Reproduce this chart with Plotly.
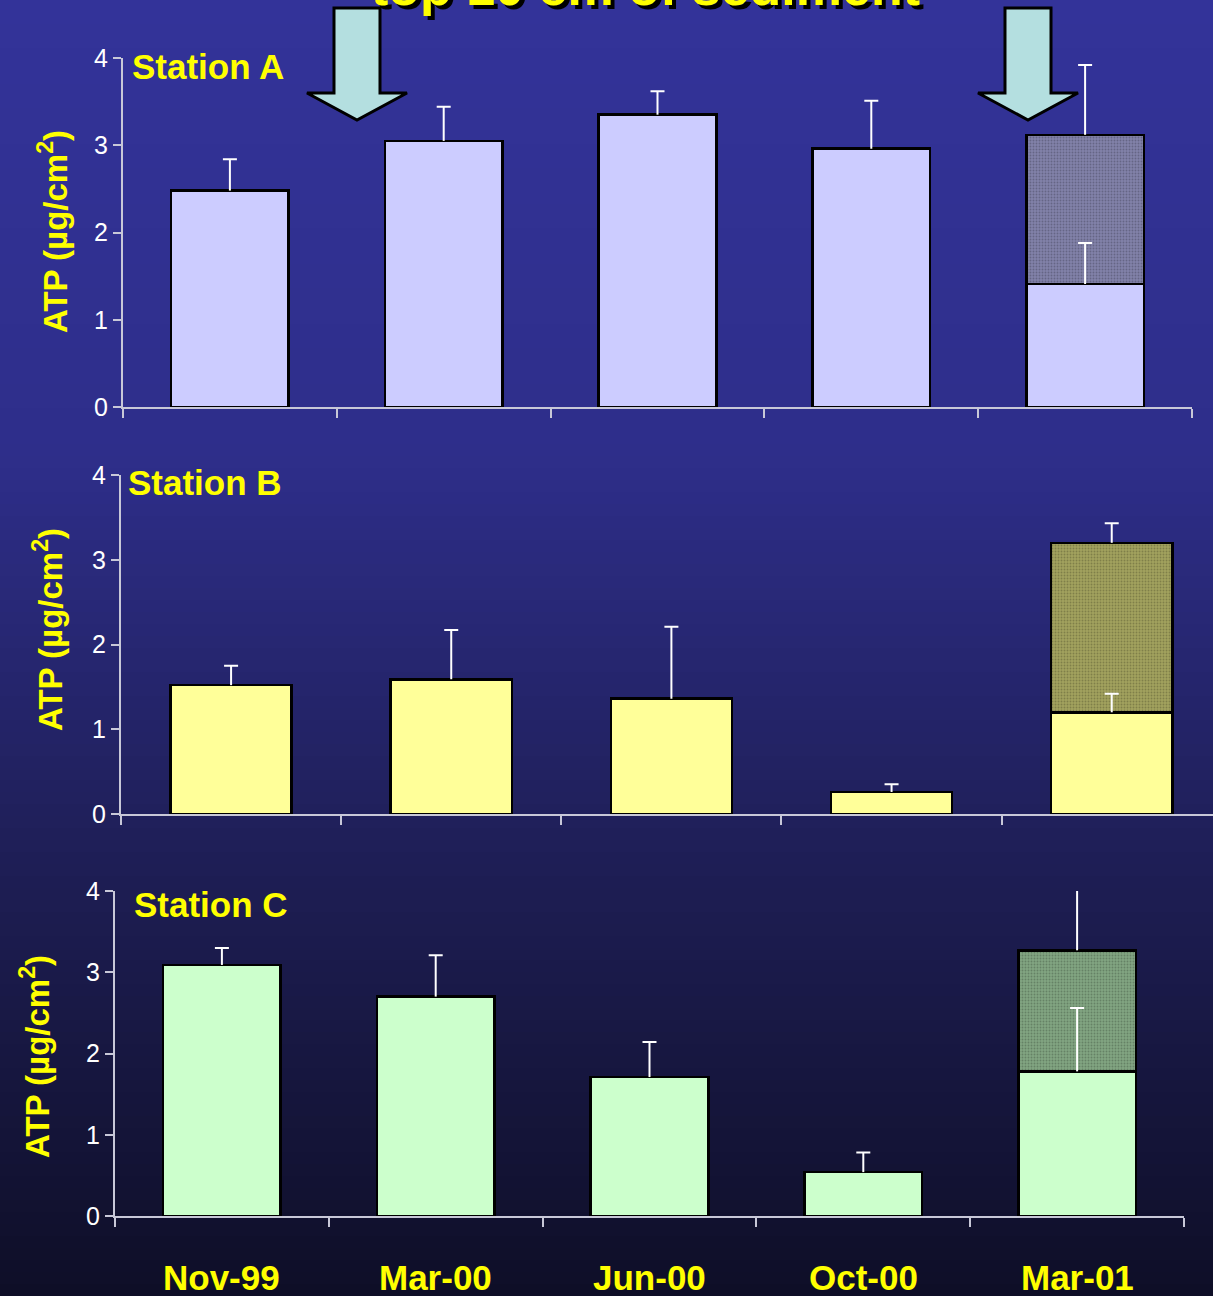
import plotly.graph_objects as go

W, H = 1213, 1296

dates = ["Nov-99", "Mar-00", "Jun-00", "Oct-00", "Mar-01"]

# Station A
a_base = [2.48, 3.05, 3.35, 2.96, 1.41]
a_base_err = [0.36, 0.39, 0.27, 0.55, 0.47]
a_total = 3.12
a_total_err = 0.80

# Station B
b_base = [1.52, 1.59, 1.36, 0.26, 1.20]
b_base_err = [0.23, 0.58, 0.85, 0.09, 0.22]
b_total = 3.20
b_total_err = 0.23

# Station C
c_base = [3.09, 2.70, 1.71, 0.54, 1.78]
c_base_err = [0.21, 0.51, 0.43, 0.24, 0.78]
c_total = 3.27
c_total_err = 0.78

y_ticks = [0, 1, 2, 3, 4]

YELLOW = "#ffff00"
SANS = "Liberation Sans, Arial, sans-serif"


def px(x):
    return x / W


def py(y):
    return 1 - y / H


panels = [
    # name, base, err, total, total_err, light, dark, xdom(px), y0px, y4px, label pos, ytitle pos, xrange
    ("Station A", a_base, a_base_err, a_total, a_total_err, "#ccccff", "#8282aa",
     (123, 1192), 407, 58, (130, 67), (53, 232), [-0.5, 4.5]),
    ("Station B", b_base, b_base_err, b_total, b_total_err, "#ffff99", "#a3a35e",
     (121, 1213), 814, 475, (126, 483), (48, 630), [-0.5, 4.46]),
    ("Station C", c_base, c_base_err, c_total, c_total_err, "#ccffcc", "#82a682",
     (115, 1184), 1216, 891, (132, 904), (35, 1057), [-0.5, 4.5]),
]

fig = go.Figure()
annotations = []

for i, (name, base, err, total, total_err, light, dark, xd, y0, y4, lab, ylab, xr) in enumerate(panels):
    n = i + 1
    xa = "x" if n == 1 else f"x{n}"
    ya = "y" if n == 1 else f"y{n}"
    extra = [0, 0, 0, 0, total - base[-1]]

    fig.add_trace(go.Bar(
        x=dates, y=base, xaxis=xa, yaxis=ya,
        marker=dict(color=light, line=dict(color="black", width=2.5)),
        showlegend=False,
    ))
    fig.add_trace(go.Bar(
        x=dates, y=extra, xaxis=xa, yaxis=ya,
        marker=dict(color=dark, line=dict(color="black", width=2.5),
                    pattern=dict(shape=".", fgcolor="rgba(0,0,0,0.22)", bgcolor=dark,
                                 size=3, solidity=0.3)),
        showlegend=False,
    ))

    # error bars on top of the stacked bars: stem without caps, then the cap alone
    ex = dates + [dates[-1]]
    ey = base + [total]
    ee = err + [total_err]
    fig.add_trace(go.Scatter(
        x=ex, y=ey, xaxis=xa, yaxis=ya,
        mode="markers", marker=dict(size=1, opacity=0),
        error_y=dict(type="data", array=ee, arrayminus=[0] * 6,
                     symmetric=False, color="white", thickness=2, width=0),
        cliponaxis=False, showlegend=False, hoverinfo="skip",
    ))
    fig.add_trace(go.Scatter(
        x=ex, y=[v + e for v, e in zip(ey, ee)], xaxis=xa, yaxis=ya,
        mode="markers", marker=dict(size=1, opacity=0),
        error_y=dict(type="data", array=[0] * 6, arrayminus=[0] * 6,
                     symmetric=False, color="white", thickness=2, width=7),
        cliponaxis=False, showlegend=False, hoverinfo="skip",
    ))

    xkey = "xaxis" if n == 1 else f"xaxis{n}"
    ykey = "yaxis" if n == 1 else f"yaxis{n}"
    fig.layout[xkey] = dict(
        domain=[px(xd[0]), min(1.0, px(xd[1]))], anchor=ya, type="category",
        range=xr, tickson="boundaries", ticks="outside", ticklen=9, tickwidth=2,
        tickcolor="#c8c8d8", showline=True, linecolor="#c8c8d8", linewidth=2,
        showgrid=False, zeroline=False, showticklabels=False, automargin=False,
    )
    fig.layout[ykey] = dict(
        domain=[py(y0), py(y4)], anchor=xa, range=[0, 4], tickvals=y_ticks,
        ticks="outside", ticklen=8, tickwidth=2, tickcolor="#c8c8d8",
        showline=True, linecolor="#c8c8d8", linewidth=2, showgrid=False,
        zeroline=False, tickfont=dict(family=SANS, size=25, color="white"),
        automargin=False,
    )

    annotations.append(dict(
        text=name, x=px(lab[0]), y=py(lab[1]), xref="paper", yref="paper",
        xanchor="left", yanchor="middle", showarrow=False,
        font=dict(family=SANS, size=35, color=YELLOW, weight="bold"),
    ))
    annotations.append(dict(
        text="ATP (µg/cm<sup>2</sup>)", x=px(ylab[0]), y=py(ylab[1]),
        xref="paper", yref="paper", xanchor="center", yanchor="middle",
        textangle=-90, showarrow=False,
        font=dict(family=SANS, size=33, color=YELLOW, weight="bold"),
    ))

# date labels under the bottom panel
for d in dates:
    annotations.append(dict(
        text=d, x=d, y=py(1277), xref="x3", yref="paper",
        xanchor="center", yanchor="middle", showarrow=False,
        font=dict(family=SANS, size=35, color=YELLOW, weight="bold"),
    ))

# title cut off at the top of the page
for dx, dy, col in [(4, 4, "black"), (0, 0, YELLOW)]:
    annotations.append(dict(
        text="top 10 cm of sediment", x=px(645 + dx), y=py(-13 + dy),
        xref="paper", yref="paper", xanchor="center", yanchor="middle",
        showarrow=False,
        font=dict(family=SANS, size=52, color=col, weight="bold"),
    ))

# background gradient
stops = [(0, (51, 51, 153)), (450, (46, 46, 138)), (860, (30, 30, 85)), (1296, (14, 14, 38))]
shapes = []
step = 12
for yy in range(0, H, step):
    for (ya0, c0), (ya1, c1) in zip(stops[:-1], stops[1:]):
        if ya0 <= yy <= ya1:
            t = (yy - ya0) / (ya1 - ya0)
            c = tuple(round(c0[k] + (c1[k] - c0[k]) * t) for k in range(3))
            break
    shapes.append(dict(
        type="rect", xref="paper", yref="paper", x0=0, x1=1,
        y0=py(min(H, yy + step + 1)), y1=py(yy), layer="below",
        fillcolor=f"rgb{c}", line=dict(width=0),
    ))


def arrow(cx):
    pts = [(cx - 23, 8), (cx + 23, 8), (cx + 23, 93), (cx + 50, 93),
           (cx, 120), (cx - 50, 93), (cx - 23, 93)]
    path = "M " + " L ".join(f"{px(x):.5f},{py(y):.5f}" for x, y in pts) + " Z"
    return dict(type="path", xref="paper", yref="paper", path=path,
                fillcolor="#b4dfe0", line=dict(color="black", width=3), layer="above")


shapes.append(arrow(357))
shapes.append(arrow(1028))

fig.update_layout(
    template="none",
    width=W, height=H, margin=dict(l=0, r=0, t=0, b=0, pad=0, autoexpand=False),
    barmode="stack", bargap=0.45,
    paper_bgcolor="#222266", plot_bgcolor="rgba(0,0,0,0)",
    annotations=annotations, shapes=shapes,
)

fig.write_html(
    "out.html",
    config={"displayModeBar": False},
    post_script="document.body.style.margin='0';document.body.style.overflow='hidden';",
)
